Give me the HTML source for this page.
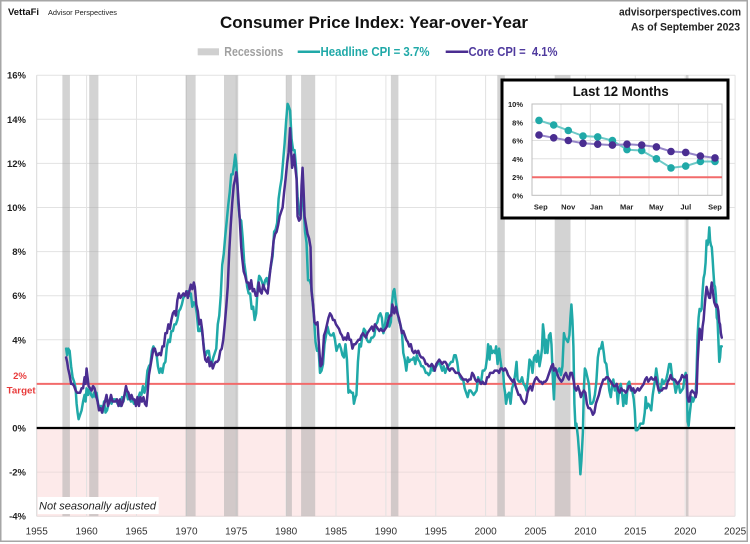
<!DOCTYPE html>
<html><head><meta charset="utf-8"><style>
html,body{margin:0;padding:0;background:#fff;}
svg{display:block;}
text{font-family:"Liberation Sans",sans-serif;}
</style></head><body>
<svg width="750" height="544" viewBox="0 0 750 544" xmlns="http://www.w3.org/2000/svg">
<rect x="0" y="0" width="750" height="544" fill="#fff"/>
<rect x="0.75" y="0.75" width="746.5" height="540.5" fill="none" stroke="#a6a6a6" stroke-width="1.5"/>

<!-- header -->
<text x="8" y="15" font-size="9.5" font-weight="bold" fill="#111" textLength="31" lengthAdjust="spacingAndGlyphs">VettaFi</text>
<text x="48" y="15" font-size="7" fill="#222" textLength="69" lengthAdjust="spacingAndGlyphs">Advisor Perspectives</text>
<text x="220" y="28" font-size="17" font-weight="bold" fill="#111" textLength="308" lengthAdjust="spacingAndGlyphs">Consumer Price Index: Year-over-Year</text>
<text x="741" y="15.7" font-size="11" font-weight="bold" fill="#222" text-anchor="end" textLength="122" lengthAdjust="spacingAndGlyphs">advisorperspectives.com</text>
<text x="740" y="30.7" font-size="11" font-weight="bold" fill="#222" text-anchor="end" textLength="109" lengthAdjust="spacingAndGlyphs">As of September 2023</text>

<!-- legend -->
<rect x="197.7" y="48.3" width="21.3" height="7" fill="#d0d0d0"/>
<text x="224.3" y="56" font-size="13" font-weight="bold" fill="#a0a0a0" textLength="59" lengthAdjust="spacingAndGlyphs">Recessions</text>
<line x1="297.7" y1="51.7" x2="320" y2="51.7" stroke="#20a9a8" stroke-width="2.5"/>
<text x="320.5" y="56" font-size="13" font-weight="bold" fill="#20a9a8" textLength="109" lengthAdjust="spacingAndGlyphs">Headline CPI = 3.7%</text>
<line x1="445.7" y1="51.7" x2="468.3" y2="51.7" stroke="#4a2d91" stroke-width="2.5"/>
<text x="468.5" y="56" font-size="13" font-weight="bold" fill="#4f3a9e" textLength="89" lengthAdjust="spacingAndGlyphs" style="white-space:pre">Core CPI =  4.1%</text>

<!-- negative region -->
<rect x="36.7" y="428" width="698.4" height="88.2" fill="#fdeaea"/>

<!-- gridlines -->
<g stroke="#e2e2e2" stroke-width="1">
<line x1="36.7" y1="75.2" x2="735.1" y2="75.2"/>
<line x1="36.7" y1="119.3" x2="735.1" y2="119.3"/>
<line x1="36.7" y1="163.4" x2="735.1" y2="163.4"/>
<line x1="36.7" y1="207.5" x2="735.1" y2="207.5"/>
<line x1="36.7" y1="251.6" x2="735.1" y2="251.6"/>
<line x1="36.7" y1="295.7" x2="735.1" y2="295.7"/>
<line x1="36.7" y1="339.8" x2="735.1" y2="339.8"/>
<line x1="36.7" y1="383.9" x2="735.1" y2="383.9"/>
<line x1="36.7" y1="472.1" x2="735.1" y2="472.1" stroke="#ecdcdc"/>
<line x1="36.7" y1="516.2" x2="735.1" y2="516.2" stroke="#e6dada"/>
<line x1="36.7" y1="75.2" x2="36.7" y2="516.2" stroke="#d8d8d8"/>
<line x1="86.6" y1="75.2" x2="86.6" y2="516.2"/>
<line x1="136.5" y1="75.2" x2="136.5" y2="516.2"/>
<line x1="186.4" y1="75.2" x2="186.4" y2="516.2"/>
<line x1="236.2" y1="75.2" x2="236.2" y2="516.2"/>
<line x1="286.1" y1="75.2" x2="286.1" y2="516.2"/>
<line x1="336" y1="75.2" x2="336" y2="516.2"/>
<line x1="385.9" y1="75.2" x2="385.9" y2="516.2"/>
<line x1="435.8" y1="75.2" x2="435.8" y2="516.2"/>
<line x1="485.6" y1="75.2" x2="485.6" y2="516.2"/>
<line x1="535.5" y1="75.2" x2="535.5" y2="516.2"/>
<line x1="585.4" y1="75.2" x2="585.4" y2="516.2"/>
<line x1="635.3" y1="75.2" x2="635.3" y2="516.2"/>
<line x1="685.2" y1="75.2" x2="685.2" y2="516.2"/>
<line x1="735.1" y1="75.2" x2="735.1" y2="516.2"/>
</g>

<!-- recessions -->
<g fill="#a8a8a8" fill-opacity="0.5">
<rect x="62.4" y="75.2" width="7.5" height="441"/>
<rect x="89.2" y="75.2" width="9.2" height="441"/>
<rect x="185.6" y="75.2" width="10" height="441"/>
<rect x="224.0" y="75.2" width="14.2" height="441"/>
<rect x="286.1" y="75.2" width="5.8" height="441"/>
<rect x="301.1" y="75.2" width="14.1" height="441"/>
<rect x="390.9" y="75.2" width="7.5" height="441"/>
<rect x="497.3" y="75.2" width="7.5" height="441"/>
<rect x="554.7" y="75.2" width="15.8" height="441"/>
<rect x="686.0" y="75.2" width="2.5" height="441"/>
</g>

<!-- target and zero lines -->
<line x1="36.7" y1="383.9" x2="735.1" y2="383.9" stroke="#f26b6b" stroke-width="2"/>
<line x1="36.7" y1="428" x2="735.1" y2="428" stroke="#000" stroke-width="2.2"/>

<!-- series -->
<g transform="translate(36.7 428) scale(9.976 -22.05) translate(-1955 0)" fill="none" stroke-linejoin="round" stroke-linecap="round">
<polyline vector-effect="non-scaling-stroke" stroke="#20a9a8" stroke-width="2.5" points="1957.95,3.6 1958.05,3.3 1958.15,3.6 1958.3,3.5 1958.45,2.8 1958.6,2.3 1958.75,2.1 1958.9,1.8 1959.0,1.1 1959.1,0.7 1959.2,0.4 1959.35,0.6 1959.5,0.8 1959.65,1.2 1959.8,1.5 1959.9,1.2 1960.0,1.8 1960.15,1.5 1960.3,1.8 1960.45,1.5 1960.6,1.4 1960.75,1.6 1960.9,1.4 1961.0,1.6 1961.15,1.1 1961.3,0.9 1961.45,1.0 1961.6,0.7 1961.75,1.2 1961.9,0.7 1962.05,0.8 1962.2,1.1 1962.35,1.3 1962.5,1.1 1962.65,1.3 1962.8,1.3 1962.95,1.3 1963.1,1.1 1963.25,1.2 1963.4,1.0 1963.55,1.4 1963.7,1.2 1963.85,1.6 1964.0,1.6 1964.15,1.3 1964.3,1.4 1964.45,1.2 1964.6,1.3 1964.75,1.1 1964.9,1.2 1965.05,1.2 1965.2,1.4 1965.35,1.6 1965.5,1.5 1965.65,1.9 1965.8,1.6 1965.95,1.9 1966.1,2.6 1966.25,2.8 1966.4,2.9 1966.55,3.5 1966.7,3.7 1966.85,3.5 1967.0,3.4 1967.15,2.8 1967.3,2.5 1967.45,2.7 1967.6,2.5 1967.75,2.9 1967.9,3.0 1968.05,3.7 1968.2,4.0 1968.35,3.9 1968.5,4.4 1968.65,4.4 1968.8,4.7 1968.95,4.7 1969.1,4.9 1969.25,5.3 1969.4,5.4 1969.55,5.6 1969.7,5.9 1969.85,6.0 1970.0,6.1 1970.15,6.2 1970.3,6.0 1970.45,6.1 1970.6,5.5 1970.75,5.7 1970.9,5.6 1971.05,5.2 1971.2,4.4 1971.35,4.4 1971.5,4.6 1971.65,4.1 1971.8,3.5 1971.95,3.3 1972.1,3.5 1972.25,3.5 1972.4,3.0 1972.55,2.9 1972.7,3.2 1972.85,3.4 1973.0,3.6 1973.15,4.7 1973.3,5.1 1973.45,6.0 1973.6,7.4 1973.75,7.9 1973.9,8.7 1974.05,9.4 1974.2,10.1 1974.35,10.7 1974.5,11.5 1974.65,11.5 1974.8,12.0 1974.9,12.4 1975.0,12.0 1975.1,11.3 1975.2,10.2 1975.35,9.5 1975.5,9.4 1975.65,8.6 1975.8,7.5 1975.95,7.0 1976.1,6.4 1976.25,6.1 1976.4,6.1 1976.55,5.4 1976.7,5.5 1976.85,4.9 1977.0,5.2 1977.15,6.4 1977.3,6.9 1977.45,6.8 1977.6,6.6 1977.75,6.4 1977.9,6.7 1978.05,6.8 1978.2,6.5 1978.35,7.0 1978.5,7.4 1978.65,7.8 1978.8,8.9 1978.95,9.0 1979.1,9.3 1979.25,10.4 1979.4,10.9 1979.55,11.3 1979.7,12.1 1979.85,12.9 1980.0,13.9 1980.15,14.7 1980.25,14.6 1980.4,14.4 1980.55,13.1 1980.7,12.6 1980.85,12.6 1981.0,11.8 1981.15,10.5 1981.3,9.8 1981.45,9.6 1981.6,10.8 1981.75,10.1 1981.9,8.9 1982.05,8.4 1982.2,6.7 1982.35,6.7 1982.5,6.5 1982.65,5.8 1982.8,5.0 1982.95,3.9 1983.1,3.5 1983.25,3.6 1983.4,2.5 1983.55,2.6 1983.7,2.9 1983.85,3.8 1984.0,4.2 1984.15,4.6 1984.3,4.3 1984.45,4.2 1984.6,4.2 1984.75,4.3 1984.9,4.0 1985.05,3.5 1985.2,3.7 1985.35,3.8 1985.5,3.6 1985.65,3.3 1985.8,3.2 1985.95,3.8 1986.1,3.1 1986.25,1.6 1986.4,1.7 1986.55,1.6 1986.7,1.6 1986.8,1.1 1986.95,1.4 1987.05,1.5 1987.2,3.0 1987.35,3.8 1987.5,3.7 1987.65,4.2 1987.8,4.5 1987.95,4.4 1988.1,4.0 1988.25,3.9 1988.4,3.9 1988.55,4.1 1988.7,4.1 1988.85,4.2 1989.0,4.7 1989.15,4.8 1989.3,5.1 1989.45,5.2 1989.6,5.0 1989.75,4.3 1989.9,4.6 1990.05,5.2 1990.2,5.2 1990.35,4.6 1990.5,4.8 1990.6,5.6 1990.75,6.2 1990.85,6.3 1991.0,5.7 1991.15,5.3 1991.3,4.9 1991.45,4.7 1991.6,4.4 1991.75,3.4 1991.9,3.1 1992.05,2.6 1992.2,3.2 1992.35,3.0 1992.5,3.1 1992.65,3.1 1992.8,3.2 1992.95,2.9 1993.1,3.3 1993.25,3.1 1993.4,3.0 1993.55,2.8 1993.7,2.8 1993.85,2.7 1994.0,2.5 1994.15,2.5 1994.3,2.4 1994.45,2.5 1994.6,2.9 1994.75,2.6 1994.9,2.7 1995.05,2.8 1995.2,2.9 1995.35,3.1 1995.5,2.8 1995.65,2.6 1995.8,2.8 1995.95,2.5 1996.1,2.7 1996.25,2.8 1996.4,2.9 1996.55,3.0 1996.7,3.0 1996.85,3.3 1997.0,3.3 1997.15,3.0 1997.3,2.5 1997.45,2.3 1997.6,2.2 1997.75,2.2 1997.9,1.8 1998.05,1.6 1998.2,1.4 1998.35,1.7 1998.5,1.7 1998.65,1.6 1998.8,1.5 1998.95,1.6 1999.1,1.7 1999.25,2.3 1999.4,2.1 1999.55,2.1 1999.7,2.6 1999.85,2.6 2000.0,2.7 2000.15,3.2 2000.25,3.8 2000.4,3.1 2000.5,3.7 2000.65,3.4 2000.8,3.5 2000.95,3.4 2001.05,3.7 2001.2,2.9 2001.35,3.6 2001.45,3.2 2001.6,2.7 2001.75,2.6 2001.85,1.9 2001.95,1.6 2002.05,1.1 2002.2,1.5 2002.35,1.6 2002.5,1.1 2002.65,1.8 2002.8,2.0 2002.95,2.4 2003.1,3.0 2003.2,2.2 2003.35,2.1 2003.5,2.1 2003.65,2.3 2003.8,2.0 2003.95,1.9 2004.1,1.7 2004.25,2.3 2004.4,3.1 2004.55,3.0 2004.7,2.5 2004.85,3.2 2005.0,3.3 2005.1,3.0 2005.25,3.5 2005.4,2.8 2005.55,3.2 2005.65,3.6 2005.75,4.7 2005.85,4.3 2005.95,3.4 2006.05,4.0 2006.2,3.4 2006.35,4.2 2006.5,4.3 2006.6,3.8 2006.75,2.1 2006.85,1.3 2006.95,2.5 2007.1,2.4 2007.25,2.6 2007.4,2.7 2007.55,2.4 2007.7,2.8 2007.85,4.3 2007.95,4.1 2008.1,4.0 2008.25,3.9 2008.4,4.2 2008.5,5.0 2008.6,5.6 2008.7,4.9 2008.8,3.7 2008.9,1.1 2009.0,0.1 2009.1,0.2 2009.25,-0.4 2009.4,-1.3 2009.5,-2.1 2009.6,-1.5 2009.75,-0.2 2009.85,1.8 2009.95,2.7 2010.05,2.6 2010.2,2.3 2010.35,2.0 2010.5,1.1 2010.65,1.1 2010.8,1.2 2010.95,1.5 2011.1,2.1 2011.25,3.2 2011.4,3.6 2011.55,3.6 2011.7,3.9 2011.85,3.4 2011.95,3.0 2012.1,2.9 2012.25,2.3 2012.4,1.7 2012.55,1.4 2012.7,2.0 2012.8,2.2 2012.95,1.7 2013.1,2.0 2013.25,1.1 2013.4,1.8 2013.55,2.0 2013.7,1.5 2013.8,1.0 2013.95,1.5 2014.1,1.1 2014.25,2.0 2014.4,2.1 2014.55,1.7 2014.7,1.7 2014.85,1.3 2014.95,0.8 2015.05,-0.1 2015.2,-0.1 2015.35,0.0 2015.5,0.2 2015.65,0.2 2015.8,0.2 2015.95,0.7 2016.05,1.4 2016.15,0.9 2016.3,1.1 2016.45,1.0 2016.6,0.8 2016.75,1.5 2016.95,2.1 2017.1,2.7 2017.25,2.2 2017.4,1.6 2017.55,1.7 2017.7,2.2 2017.85,2.0 2017.95,2.1 2018.1,2.2 2018.25,2.5 2018.4,2.9 2018.55,2.9 2018.7,2.3 2018.85,2.2 2018.95,1.9 2019.05,1.6 2019.2,1.9 2019.35,2.0 2019.5,1.6 2019.65,1.7 2019.8,1.8 2019.95,2.3 2020.05,2.5 2020.15,2.3 2020.25,0.3 2020.35,0.1 2020.45,0.6 2020.55,1.0 2020.65,1.4 2020.8,1.2 2020.95,1.4 2021.05,1.4 2021.15,2.6 2021.25,4.2 2021.35,5.0 2021.45,5.4 2021.55,5.3 2021.65,5.4 2021.75,6.2 2021.85,6.8 2021.95,7.0 2022.05,7.5 2022.15,8.5 2022.25,8.3 2022.35,8.6 2022.42,9.1 2022.5,8.5 2022.58,8.3 2022.67,8.2 2022.75,7.7 2022.83,7.1 2022.92,6.5 2023.0,6.4 2023.08,6.0 2023.17,5.0 2023.25,4.9 2023.33,4.0 2023.42,3.0 2023.5,3.2 2023.58,3.7 2023.67,3.7"/>
<polyline vector-effect="non-scaling-stroke" stroke="#4a2d91" stroke-width="2.5" points="1957.95,3.2 1958.05,3.0 1958.15,2.7 1958.3,2.4 1958.45,2.0 1958.6,2.0 1958.75,1.9 1958.9,1.7 1959.05,1.6 1959.2,1.6 1959.35,1.6 1959.5,1.8 1959.65,1.8 1959.8,2.3 1959.9,2.0 1960.0,2.7 1960.1,2.3 1960.2,1.9 1960.35,1.8 1960.5,1.7 1960.65,1.9 1960.8,1.8 1960.95,1.5 1961.1,1.2 1961.25,0.8 1961.4,0.9 1961.55,0.7 1961.7,1.0 1961.85,1.2 1962.0,1.5 1962.15,1.0 1962.3,1.2 1962.45,1.5 1962.6,1.2 1962.75,1.2 1962.9,1.2 1963.05,1.3 1963.2,1.0 1963.35,1.3 1963.5,1.0 1963.65,1.2 1963.8,1.5 1963.95,1.9 1964.05,1.7 1964.2,1.6 1964.35,1.3 1964.5,1.5 1964.65,1.3 1964.8,1.3 1964.95,1.0 1965.1,1.4 1965.25,1.0 1965.4,1.4 1965.55,1.2 1965.7,1.4 1965.85,1.1 1966.0,1.0 1966.1,1.5 1966.25,2.4 1966.4,2.8 1966.55,3.2 1966.7,3.6 1966.85,3.6 1967.0,3.3 1967.15,3.3 1967.3,3.4 1967.45,3.3 1967.6,3.7 1967.75,3.7 1967.9,4.3 1968.05,4.3 1968.2,4.7 1968.35,4.5 1968.5,4.9 1968.65,5.2 1968.8,5.3 1968.95,5.1 1969.1,5.8 1969.25,6.1 1969.4,5.9 1969.55,6.0 1969.7,6.1 1969.85,6.0 1970.0,6.2 1970.15,5.9 1970.3,6.2 1970.45,6.5 1970.6,6.3 1970.75,6.6 1970.85,6.4 1971.0,5.6 1971.15,5.3 1971.3,4.7 1971.45,4.9 1971.6,4.4 1971.75,3.6 1971.9,3.1 1972.05,3.0 1972.2,3.2 1972.35,2.8 1972.5,3.0 1972.65,2.7 1972.8,2.9 1972.95,3.0 1973.1,3.0 1973.25,3.1 1973.4,3.5 1973.55,3.6 1973.7,4.0 1973.85,4.7 1974.0,5.5 1974.15,6.4 1974.3,8.0 1974.45,9.2 1974.6,10.2 1974.75,11.0 1974.9,11.3 1975.0,11.6 1975.1,11.2 1975.2,10.5 1975.35,9.5 1975.5,8.2 1975.6,7.7 1975.75,7.1 1975.9,6.9 1976.05,6.6 1976.2,6.6 1976.35,6.3 1976.5,6.7 1976.65,6.2 1976.8,6.3 1976.95,6.0 1977.1,6.0 1977.25,6.6 1977.4,6.2 1977.55,6.1 1977.7,6.5 1977.85,6.3 1978.0,6.2 1978.15,6.1 1978.3,6.7 1978.45,7.3 1978.6,7.8 1978.75,8.5 1978.9,8.8 1979.05,8.9 1979.2,9.2 1979.35,9.6 1979.5,9.8 1979.65,10.0 1979.8,10.7 1979.95,11.3 1980.1,12.0 1980.25,12.5 1980.4,13.6 1980.5,12.6 1980.6,11.8 1980.7,12.0 1980.8,12.4 1980.95,11.7 1981.05,11.3 1981.15,9.6 1981.3,9.4 1981.45,9.5 1981.55,11.0 1981.65,11.8 1981.75,10.8 1981.85,9.6 1982.0,9.2 1982.15,8.8 1982.3,8.6 1982.45,8.2 1982.55,6.2 1982.7,5.6 1982.85,4.8 1983.0,4.7 1983.15,4.8 1983.3,3.7 1983.45,2.8 1983.6,2.9 1983.7,3.5 1983.8,4.2 1983.95,4.4 1984.1,4.7 1984.25,5.0 1984.4,5.2 1984.55,5.1 1984.7,4.9 1984.85,4.9 1985.0,4.7 1985.15,4.6 1985.3,4.5 1985.45,4.3 1985.6,4.2 1985.75,4.0 1985.9,4.1 1986.05,4.0 1986.2,4.3 1986.35,4.0 1986.5,4.0 1986.65,3.6 1986.8,3.8 1986.95,3.8 1987.1,3.9 1987.25,4.0 1987.4,4.0 1987.55,4.2 1987.7,4.3 1987.85,4.2 1988.0,4.1 1988.15,4.3 1988.3,4.4 1988.45,4.5 1988.6,4.6 1988.75,4.4 1988.9,4.7 1989.05,4.6 1989.2,4.5 1989.35,4.4 1989.5,4.5 1989.65,4.4 1989.8,4.4 1989.95,4.5 1990.1,4.6 1990.25,4.9 1990.4,5.1 1990.55,5.1 1990.65,5.6 1990.75,5.4 1990.85,5.2 1991.0,5.5 1991.15,5.2 1991.3,5.0 1991.45,4.7 1991.6,4.3 1991.75,4.4 1991.9,4.2 1992.05,4.0 1992.2,3.9 1992.35,3.7 1992.5,3.8 1992.65,3.5 1992.8,3.4 1992.95,3.5 1993.1,3.4 1993.25,3.5 1993.4,3.3 1993.55,3.2 1993.7,3.2 1993.85,3.1 1994.0,2.9 1994.15,2.9 1994.3,2.8 1994.45,2.8 1994.6,2.9 1994.75,2.8 1994.9,2.6 1995.05,2.9 1995.2,3.0 1995.35,3.1 1995.5,3.0 1995.65,2.9 1995.8,3.0 1995.95,3.0 1996.1,2.9 1996.25,2.7 1996.4,2.6 1996.55,2.7 1996.7,2.7 1996.85,2.6 1997.0,2.5 1997.15,2.5 1997.3,2.5 1997.45,2.4 1997.6,2.3 1997.75,2.2 1997.9,2.2 1998.05,2.2 1998.2,2.1 1998.35,2.2 1998.5,2.2 1998.65,2.5 1998.8,2.4 1998.95,2.2 1999.1,2.1 1999.25,2.2 1999.4,2.1 1999.55,2.0 1999.7,2.1 1999.85,2.0 2000.0,2.0 2000.15,2.3 2000.3,2.3 2000.45,2.5 2000.6,2.5 2000.75,2.5 2000.9,2.6 2001.05,2.6 2001.2,2.6 2001.35,2.5 2001.5,2.7 2001.65,2.7 2001.8,2.6 2001.95,2.7 2002.1,2.6 2002.25,2.4 2002.4,2.3 2002.55,2.2 2002.7,2.1 2002.85,2.2 2003.0,1.9 2003.15,1.7 2003.3,1.5 2003.45,1.5 2003.6,1.3 2003.75,1.2 2003.9,1.1 2004.05,1.2 2004.2,1.6 2004.35,1.8 2004.5,1.9 2004.65,1.7 2004.8,2.0 2004.95,2.2 2005.1,2.3 2005.25,2.2 2005.4,2.1 2005.55,2.1 2005.7,2.0 2005.85,2.1 2006.0,2.1 2006.15,2.2 2006.3,2.4 2006.45,2.6 2006.6,2.8 2006.75,2.9 2006.85,2.6 2007.0,2.7 2007.15,2.5 2007.3,2.3 2007.45,2.2 2007.6,2.1 2007.75,2.2 2007.9,2.4 2008.05,2.5 2008.2,2.3 2008.35,2.2 2008.5,2.5 2008.65,2.5 2008.8,2.2 2008.95,1.8 2009.1,1.7 2009.25,1.9 2009.4,1.7 2009.55,1.4 2009.7,1.6 2009.85,1.7 2010.0,1.6 2010.15,1.1 2010.3,0.9 2010.45,0.9 2010.6,0.8 2010.75,0.6 2010.9,0.7 2011.05,1.1 2011.2,1.3 2011.35,1.5 2011.5,1.8 2011.65,2.0 2011.8,2.2 2011.95,2.2 2012.1,2.3 2012.25,2.3 2012.4,2.2 2012.55,2.1 2012.7,2.0 2012.85,1.9 2013.0,1.9 2013.15,2.0 2013.3,1.7 2013.45,1.6 2013.6,1.8 2013.75,1.7 2013.9,1.7 2014.05,1.6 2014.2,1.7 2014.35,1.9 2014.5,1.9 2014.65,1.7 2014.8,1.8 2014.95,1.6 2015.1,1.7 2015.25,1.8 2015.4,1.7 2015.55,1.8 2015.7,1.9 2015.85,2.0 2016.0,2.2 2016.15,2.3 2016.3,2.1 2016.45,2.2 2016.6,2.3 2016.75,2.2 2016.9,2.2 2017.05,2.3 2017.2,2.0 2017.35,1.7 2017.5,1.7 2017.65,1.7 2017.8,1.8 2017.95,1.8 2018.1,1.8 2018.25,2.1 2018.4,2.2 2018.55,2.4 2018.7,2.2 2018.85,2.2 2018.95,2.2 2019.1,2.1 2019.25,2.0 2019.4,2.1 2019.55,2.2 2019.7,2.4 2019.85,2.3 2020.0,2.3 2020.15,2.4 2020.25,1.4 2020.35,1.2 2020.45,1.2 2020.55,1.6 2020.7,1.7 2020.85,1.6 2020.95,1.6 2021.05,1.4 2021.15,1.6 2021.25,3.0 2021.35,3.8 2021.45,4.5 2021.55,4.3 2021.65,4.0 2021.75,4.6 2021.85,4.9 2021.95,5.5 2022.05,6.0 2022.15,6.4 2022.25,6.2 2022.35,6.0 2022.42,5.9 2022.5,5.9 2022.58,6.3 2022.67,6.6 2022.75,6.3 2022.83,6.0 2022.92,5.7 2023.0,5.6 2023.08,5.5 2023.17,5.6 2023.25,5.5 2023.33,5.3 2023.42,4.8 2023.5,4.7 2023.58,4.3 2023.67,4.1"/>
</g>

<!-- y axis labels -->
<g font-size="9.5" font-weight="bold" fill="#222" text-anchor="end">
<text x="26" y="78.7">16%</text>
<text x="26" y="122.8">14%</text>
<text x="26" y="166.9">12%</text>
<text x="26" y="211">10%</text>
<text x="26" y="255.1">8%</text>
<text x="26" y="299.2">6%</text>
<text x="26" y="343.3">4%</text>
<text x="26" y="431.5">0%</text>
<text x="26" y="475.6">-2%</text>
<text x="26" y="519.7">-4%</text>
</g>
<text x="20" y="379.2" font-size="9.5" font-weight="bold" fill="#e83a3a" text-anchor="middle">2%</text>
<text x="21.2" y="393.5" font-size="9.5" font-weight="bold" fill="#e83a3a" text-anchor="middle" textLength="29" lengthAdjust="spacingAndGlyphs">Target</text>

<!-- x axis labels -->
<g font-size="10" fill="#333" text-anchor="middle">
<text x="36.7" y="534.5">1955</text>
<text x="86.6" y="534.5">1960</text>
<text x="136.5" y="534.5">1965</text>
<text x="186.4" y="534.5">1970</text>
<text x="236.2" y="534.5">1975</text>
<text x="286.1" y="534.5">1980</text>
<text x="336" y="534.5">1985</text>
<text x="385.9" y="534.5">1990</text>
<text x="435.8" y="534.5">1995</text>
<text x="485.6" y="534.5">2000</text>
<text x="535.5" y="534.5">2005</text>
<text x="585.4" y="534.5">2010</text>
<text x="635.3" y="534.5">2015</text>
<text x="685.2" y="534.5">2020</text>
<text x="735.1" y="534.5">2025</text>
</g>

<!-- note -->
<rect x="37.7" y="497" width="121" height="17" fill="#fff"/>
<text x="39" y="509.5" font-size="11" font-style="italic" fill="#222" textLength="117" lengthAdjust="spacingAndGlyphs">Not seasonally adjusted</text>

<!-- inset -->
<rect x="502" y="80" width="226" height="138" fill="#fff" stroke="#000" stroke-width="3"/>
<text x="620.7" y="96" font-size="13.5" font-weight="bold" fill="#111" text-anchor="middle" textLength="96" lengthAdjust="spacingAndGlyphs">Last 12 Months</text>
<g stroke="#e0e0e0" stroke-width="1">
<line x1="532" y1="122.3" x2="722" y2="122.3"/>
<line x1="532" y1="140.5" x2="722" y2="140.5"/>
<line x1="532" y1="158.8" x2="722" y2="158.8"/>
<line x1="532" y1="177" x2="722" y2="177"/>
<line x1="561" y1="104" x2="561" y2="195.3"/>
<line x1="590.3" y1="104" x2="590.3" y2="195.3"/>
<line x1="619.7" y1="104" x2="619.7" y2="195.3"/>
<line x1="649" y1="104" x2="649" y2="195.3"/>
<line x1="678.4" y1="104" x2="678.4" y2="195.3"/>
<line x1="707.7" y1="104" x2="707.7" y2="195.3"/>
</g>
<rect x="532" y="104" width="190" height="91.3" fill="none" stroke="#bdbdbd" stroke-width="1"/>
<line x1="532" y1="177.2" x2="722" y2="177.2" stroke="#f26b6b" stroke-width="2"/>
<g font-size="7.5" font-weight="bold" fill="#222" text-anchor="end">
<text x="523" y="107">10%</text>
<text x="523" y="125.3">8%</text>
<text x="523" y="143.5">6%</text>
<text x="523" y="161.8">4%</text>
<text x="523" y="180">2%</text>
<text x="523" y="198.3">0%</text>
</g>
<g font-size="7.5" font-weight="bold" fill="#222" text-anchor="middle">
<text x="540.8" y="209.5">Sep</text>
<text x="568.2" y="209.5">Nov</text>
<text x="596.5" y="209.5">Jan</text>
<text x="626.7" y="209.5">Mar</text>
<text x="656.3" y="209.5">May</text>
<text x="685.8" y="209.5">Jul</text>
<text x="715" y="209.5">Sep</text>
</g>
<polyline fill="none" stroke="#6cc9c7" stroke-width="2" points="539,120.4 553.7,125 568.3,130.5 583,136 597.7,136.9 612.4,140.5 627,149.6 641.7,150.6 656.4,158.8 671,167.9 685.7,166.1 700.4,161.5 715,161.5"/>
<polyline fill="none" stroke="#9585c8" stroke-width="2" points="539,135 553.7,137.8 568.3,140.5 583,143.3 597.7,144.2 612.4,145.1 627,144.2 641.7,145.1 656.4,146.9 671,151.5 685.7,152.4 700.4,156 715,157.9"/>
<g fill="#20a9a8">
<circle cx="539" cy="120.4" r="3.8"/><circle cx="553.7" cy="125" r="3.8"/><circle cx="568.3" cy="130.5" r="3.8"/><circle cx="583" cy="136" r="3.8"/><circle cx="597.7" cy="136.9" r="3.8"/><circle cx="612.4" cy="140.5" r="3.8"/><circle cx="627" cy="149.6" r="3.8"/><circle cx="641.7" cy="150.6" r="3.8"/><circle cx="656.4" cy="158.8" r="3.8"/><circle cx="671" cy="167.9" r="3.8"/><circle cx="685.7" cy="166.1" r="3.8"/><circle cx="700.4" cy="161.5" r="3.8"/><circle cx="715" cy="161.5" r="3.8"/>
</g>
<g fill="#4a2d91">
<circle cx="539" cy="135" r="3.8"/><circle cx="553.7" cy="137.8" r="3.8"/><circle cx="568.3" cy="140.5" r="3.8"/><circle cx="583" cy="143.3" r="3.8"/><circle cx="597.7" cy="144.2" r="3.8"/><circle cx="612.4" cy="145.1" r="3.8"/><circle cx="627" cy="144.2" r="3.8"/><circle cx="641.7" cy="145.1" r="3.8"/><circle cx="656.4" cy="146.9" r="3.8"/><circle cx="671" cy="151.5" r="3.8"/><circle cx="685.7" cy="152.4" r="3.8"/><circle cx="700.4" cy="156" r="3.8"/><circle cx="715" cy="157.9" r="3.8"/>
</g>
</svg>
</body></html>
